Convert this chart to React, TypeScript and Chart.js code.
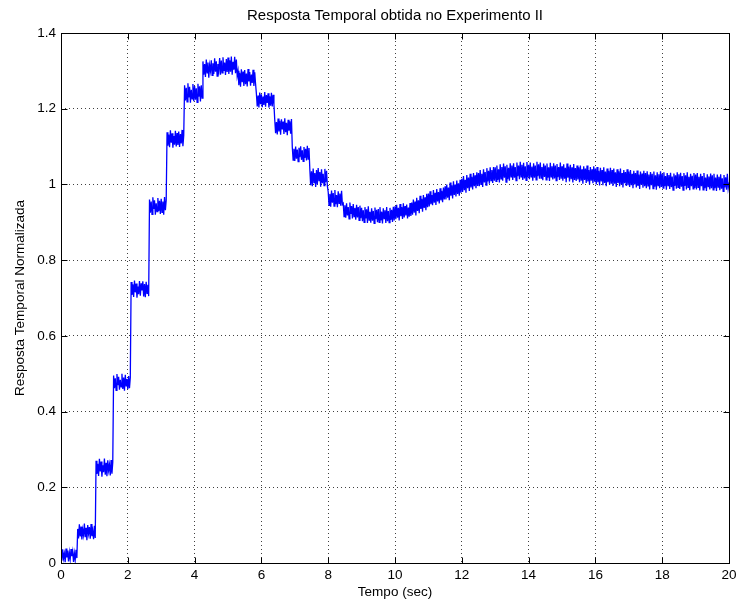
import React, { useEffect, useRef } from "react";
import { Chart, registerables } from "chart.js";

Chart.register(...registerables);

const TITLE = "Resposta Temporal obtida no Experimento II";
const X_LABEL = "Tempo (sec)";
const Y_LABEL = "Resposta Temporal Normalizada";
const X_TICKS = [0, 2, 4, 6, 8, 10, 12, 14, 16, 18, 20];
const Y_TICKS = [0, 0.2, 0.4, 0.6, 0.8, 1, 1.2, 1.4];
const Y_TICK_LABELS = ["0", "0.2", "0.4", "0.6", "0.8", "1", "1.2", "1.4"];
const SAMPLE_TIME = 0.025; // seconds between samples

// Normalised response, one row per 0.5 s (20 samples each)
const RESPONSE = [
  0.03, 0.006, 0.036, 0.012, 0.025, 0.002, 0.038, 0.015, 0.033, 0.004, 0.028, 0.01, 0.037, 0.018, 0.031, 0.003, 0.026, 0.008, 0.035, 0.013,
  0.09, 0.065, 0.102, 0.07, 0.096, 0.062, 0.088, 0.074, 0.104, 0.068, 0.093, 0.06, 0.1, 0.078, 0.095, 0.064, 0.103, 0.071, 0.085, 0.063,
  0.098, 0.066, 0.27, 0.235, 0.262, 0.23, 0.275, 0.242, 0.268, 0.228, 0.258, 0.24, 0.276, 0.233, 0.265, 0.229, 0.271, 0.245, 0.26, 0.231,
  0.272, 0.236, 0.266, 0.495, 0.462, 0.488, 0.456, 0.499, 0.47, 0.492, 0.458, 0.484, 0.465, 0.5, 0.46, 0.49, 0.455, 0.497, 0.468, 0.486,
  0.459, 0.494, 0.462, 0.49, 0.742, 0.708, 0.736, 0.703, 0.746, 0.715, 0.738, 0.701, 0.73, 0.71, 0.745, 0.706, 0.739, 0.72, 0.744, 0.704,
  0.737, 0.702, 0.743, 0.712, 0.735, 0.705, 0.96, 0.925, 0.955, 0.921, 0.966, 0.935, 0.958, 0.92, 0.95, 0.928, 0.964, 0.93, 0.957, 0.922,
  0.962, 0.926, 0.955, 0.92, 0.967, 0.932, 0.958, 1.138, 1.102, 1.132, 1.098, 1.143, 1.11, 1.135, 1.097, 1.128, 1.105, 1.142, 1.1, 1.136,
  1.104, 1.14, 1.099, 1.133, 1.108, 1.144, 1.101, 1.13, 1.262, 1.222, 1.255, 1.218, 1.267, 1.23, 1.258, 1.216, 1.25, 1.226, 1.265, 1.22,
  1.26, 1.224, 1.254, 1.217, 1.266, 1.232, 1.259, 1.219, 1.262, 1.228, 1.325, 1.29, 1.318, 1.284, 1.33, 1.295, 1.322, 1.282, 1.315, 1.3,
  1.328, 1.288, 1.32, 1.292, 1.333, 1.298, 1.325, 1.286, 1.318, 1.302, 1.334, 1.29, 1.327, 1.295, 1.336, 1.3, 1.322, 1.289, 1.331, 1.297,
  1.335, 1.292, 1.328, 1.298, 1.338, 1.29, 1.324, 1.303, 1.337, 1.294, 1.33, 1.287, 1.3, 1.262, 1.295, 1.258, 1.304, 1.27, 1.298, 1.26,
  1.302, 1.265, 1.293, 1.259, 1.305, 1.272, 1.297, 1.261, 1.29, 1.268, 1.303, 1.26, 1.296, 1.266, 1.24, 1.206, 1.235, 1.203, 1.243, 1.212,
  1.238, 1.204, 1.232, 1.21, 1.244, 1.205, 1.236, 1.215, 1.241, 1.203, 1.233, 1.208, 1.242, 1.206, 1.237, 1.212, 1.17, 1.135, 1.165, 1.132,
  1.174, 1.14, 1.168, 1.131, 1.172, 1.145, 1.166, 1.133, 1.175, 1.138, 1.163, 1.13, 1.171, 1.142, 1.167, 1.134, 1.173, 1.098, 1.064, 1.094,
  1.062, 1.1, 1.068, 1.092, 1.06, 1.097, 1.072, 1.101, 1.065, 1.09, 1.061, 1.099, 1.07, 1.094, 1.063, 1.102, 1.067, 1.096, 1.04, 0.998,
  1.035, 0.995, 1.042, 1.005, 1.03, 0.993, 1.038, 1.0, 1.043, 1.01, 1.033, 0.994, 1.04, 1.003, 1.028, 0.997, 1.041, 1.006, 1.036, 0.996,
  0.98, 0.945, 0.975, 0.941, 0.984, 0.952, 0.977, 0.943, 0.985, 0.948, 0.972, 0.94, 0.982, 0.95, 0.976, 0.944, 0.983, 0.947, 0.95, 0.915,
  0.945, 0.912, 0.95, 0.918, 0.94, 0.909, 0.952, 0.922, 0.943, 0.91, 0.948, 0.915, 0.938, 0.907, 0.946, 0.913, 0.94, 0.905, 0.944, 0.911,
  0.938, 0.903, 0.932, 0.9, 0.94, 0.91, 0.934, 0.898, 0.942, 0.906, 0.928, 0.899, 0.937, 0.904, 0.93, 0.897, 0.939, 0.908, 0.933, 0.9,
  0.935, 0.9, 0.94, 0.905, 0.928, 0.897, 0.937, 0.91, 0.932, 0.898, 0.94, 0.903, 0.93, 0.899, 0.938, 0.906, 0.933, 0.901, 0.941, 0.905,
  0.942, 0.908, 0.946, 0.912, 0.938, 0.905, 0.948, 0.916, 0.94, 0.909, 0.95, 0.913, 0.943, 0.918, 0.947, 0.91, 0.939, 0.915, 0.951, 0.917,
  0.952, 0.92, 0.96, 0.925, 0.955, 0.918, 0.965, 0.93, 0.958, 0.924, 0.97, 0.935, 0.962, 0.928, 0.972, 0.938, 0.966, 0.932, 0.975, 0.94,
  0.976, 0.942, 0.982, 0.948, 0.972, 0.945, 0.985, 0.952, 0.978, 0.946, 0.988, 0.955, 0.98, 0.95, 0.99, 0.958, 0.983, 0.953, 0.992, 0.96,
  0.995, 0.96, 1.0, 0.965, 0.992, 0.958, 1.005, 0.97, 0.998, 0.963, 1.008, 0.972, 1.0, 0.968, 1.01, 0.975, 1.003, 0.97, 1.012, 0.978,
  1.015, 0.98, 1.022, 0.985, 1.012, 0.978, 1.025, 0.99, 1.018, 0.983, 1.028, 0.992, 1.02, 0.987, 1.03, 0.995, 1.024, 0.99, 1.032, 0.996,
  1.03, 0.995, 1.038, 1.0, 1.028, 0.993, 1.04, 1.005, 1.033, 0.998, 1.043, 1.008, 1.036, 1.002, 1.045, 1.01, 1.038, 1.004, 1.046, 1.01,
  1.045, 1.008, 1.05, 1.012, 1.04, 1.005, 1.053, 1.015, 1.046, 1.01, 1.055, 1.018, 1.048, 1.006, 1.052, 1.014, 1.044, 1.01, 1.056, 1.02,
  1.05, 1.012, 1.056, 1.018, 1.046, 1.01, 1.058, 1.022, 1.05, 1.014, 1.06, 1.02, 1.052, 1.012, 1.057, 1.016, 1.048, 1.011, 1.059, 1.019,
  1.052, 1.014, 1.058, 1.02, 1.047, 1.01, 1.056, 1.018, 1.05, 1.012, 1.06, 1.022, 1.053, 1.015, 1.058, 1.017, 1.046, 1.011, 1.055, 1.02,
  1.05, 1.012, 1.055, 1.018, 1.045, 1.009, 1.057, 1.02, 1.048, 1.013, 1.056, 1.016, 1.05, 1.01, 1.054, 1.019, 1.046, 1.012, 1.058, 1.015,
  1.048, 1.01, 1.053, 1.015, 1.044, 1.006, 1.055, 1.018, 1.047, 1.008, 1.052, 1.014, 1.045, 1.005, 1.054, 1.012, 1.043, 1.009, 1.05, 1.013,
  1.045, 1.006, 1.05, 1.01, 1.04, 1.002, 1.048, 1.012, 1.042, 1.004, 1.05, 1.008, 1.038, 1.0, 1.046, 1.01, 1.04, 1.003, 1.048, 1.007,
  1.042, 1.0, 1.046, 1.006, 1.036, 0.997, 1.044, 1.008, 1.038, 0.998, 1.045, 1.004, 1.034, 0.995, 1.042, 1.006, 1.036, 0.999, 1.044, 1.002,
  1.038, 0.996, 1.042, 1.002, 1.032, 0.993, 1.04, 1.004, 1.035, 0.995, 1.042, 1.0, 1.03, 0.992, 1.038, 1.003, 1.033, 0.996, 1.04, 0.998,
  1.034, 0.993, 1.038, 0.998, 1.028, 0.99, 1.036, 1.0, 1.03, 0.992, 1.037, 0.996, 1.026, 0.988, 1.034, 0.999, 1.029, 0.991, 1.036, 0.995,
  1.03, 0.99, 1.035, 0.996, 1.026, 0.987, 1.033, 0.998, 1.028, 0.989, 1.034, 0.994, 1.024, 0.986, 1.032, 0.997, 1.027, 0.99, 1.035, 0.993,
  1.028, 0.99, 1.032, 0.995, 1.022, 0.986, 1.03, 0.997, 1.025, 0.988, 1.031, 0.993, 1.021, 0.985, 1.029, 0.996, 1.024, 0.989, 1.032, 0.992,
  1.027, 0.988, 1.031, 0.994, 1.022, 0.985, 1.03, 0.996, 1.024, 0.987, 1.032, 0.992, 1.02, 0.985, 1.028, 0.995, 1.023, 0.988, 1.03, 0.991,
  1.026, 0.987, 1.03, 0.992, 1.02, 0.984, 1.028, 0.995, 1.022, 0.986, 1.03, 0.99, 1.018, 0.983, 1.027, 0.994, 1.021, 0.987, 1.029, 0.99,
  1.024, 0.986, 1.028, 0.99, 1.018, 0.983, 1.026, 0.993, 1.02, 0.985, 1.027, 0.989, 1.016, 0.982, 1.025, 0.992, 1.019, 0.986, 1.028, 0.99,
  1.005,
];

const FONT = "'Liberation Sans', Arial, Helvetica, sans-serif";
const LABEL_SIZE = 13.5;
const TITLE_SIZE = 15;

const framePlugin = {
  id: "matlabFrame",
  afterDraw(chart: any) {
    const { ctx, chartArea: a, scales } = chart;
    const L = 6;
    ctx.save();
    ctx.strokeStyle = "#000";
    ctx.lineWidth = 1;
    const seg = (x1: number, y1: number, x2: number, y2: number) => {
      ctx.beginPath();
      ctx.moveTo(x1, y1);
      ctx.lineTo(x2, y2);
      ctx.stroke();
    };
    const left = Math.round(a.left) + 0.5;
    const right = Math.round(a.right) + 0.5;
    const top = Math.round(a.top) + 0.5;
    const bottom = Math.round(a.bottom) + 0.5;
    ctx.strokeRect(left, top, right - left, bottom - top);
    X_TICKS.forEach((v) => {
      const px = Math.round(scales.x.getPixelForValue(v)) + 0.5;
      seg(px, bottom, px, bottom - L);
      seg(px, top, px, top + L);
    });
    Y_TICKS.forEach((v) => {
      const py = Math.round(scales.y.getPixelForValue(v)) + 0.5;
      seg(left, py, left + L, py);
      seg(right, py, right - L, py);
    });
    ctx.restore();
  },
};

export default function App() {
  const ref = useRef<HTMLCanvasElement | null>(null);

  useEffect(() => {
    if (!ref.current) return;
    const points = RESPONSE.map((y, i) => ({ x: i * SAMPLE_TIME, y }));
    const chart = new Chart(ref.current, {
      type: "line",
      data: {
        datasets: [
          {
            data: points,
            borderColor: "#0000ff",
            borderWidth: 1.3,
            pointRadius: 0,
            tension: 0,
            fill: false,
          },
        ],
      },
      options: {
        animation: false,
        responsive: false,
        devicePixelRatio: 1,
        layout: { padding: { left: 0, right: 13, top: 0, bottom: 0 } },
        plugins: {
          legend: { display: false },
          tooltip: { enabled: false },
          title: {
            display: true,
            text: TITLE,
            fullSize: false,
            color: "#000",
            font: { family: FONT, size: TITLE_SIZE, weight: "normal", lineHeight: 1.2 },
            padding: { top: 7, bottom: 8 },
          },
        },
        scales: {
          x: {
            type: "linear",
            min: 0,
            max: 20,
            afterFit: (s: any) => {
              s.height = 45;
            },
            afterBuildTicks: (s: any) => {
              s.ticks = X_TICKS.map((v) => ({ value: v }));
            },
            ticks: {
              color: "#000",
              padding: 4,
              maxRotation: 0,
              font: { family: FONT, size: LABEL_SIZE },
              callback: (v: any) => String(v),
            },
            grid: {
              color: "rgba(0,0,0,0.75)",
              lineWidth: 1,
              drawTicks: false,
            },
            border: { display: false, dash: [1, 3] },
            title: {
              display: true,
              text: X_LABEL,
              color: "#000",
              font: { family: FONT, size: LABEL_SIZE, lineHeight: 1.2 },
              padding: { top: 0, bottom: 8 },
            },
          },
          y: {
            type: "linear",
            min: 0,
            max: 1.4,
            afterFit: (s: any) => {
              s.width = 61;
            },
            afterBuildTicks: (s: any) => {
              s.ticks = Y_TICKS.map((v) => ({ value: v }));
            },
            ticks: {
              color: "#000",
              padding: 5,
              font: { family: FONT, size: LABEL_SIZE },
              callback: (v: any) => {
                const i = Y_TICKS.findIndex((t) => Math.abs(t - v) < 1e-9);
                return i >= 0 ? Y_TICK_LABELS[i] : "";
              },
            },
            grid: {
              color: "rgba(0,0,0,0.75)",
              lineWidth: 1,
              drawTicks: false,
            },
            border: { display: false, dash: [1, 3] },
            title: {
              display: true,
              text: Y_LABEL,
              color: "#000",
              font: { family: FONT, size: LABEL_SIZE, lineHeight: 1.2 },
              padding: { top: 12, bottom: 0 },
            },
          },
        },
      },
      plugins: [framePlugin],
    });
    return () => chart.destroy();
  }, []);

  return (
    <div style={{ position: "fixed", left: 0, top: 0, width: 742, height: 608, background: "#fff" }}>
      <canvas ref={ref} width={742} height={608} style={{ display: "block" }} />
    </div>
  );
}
